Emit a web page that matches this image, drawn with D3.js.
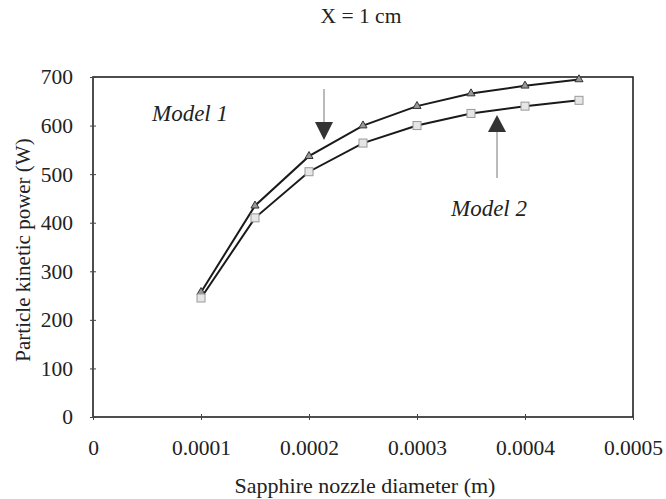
<!DOCTYPE html>
<html><head><meta charset="utf-8">
<script src="https://cdn.jsdelivr.net/npm/d3@7"></script>
<style>body{margin:0;background:#fff}svg{display:block}text{font-family:"Liberation Serif","Times New Roman",serif;fill:#222}</style>
</head><body><svg id="c" width="666" height="499"></svg>
<script>
const diameters = [0.0001, 0.00015, 0.0002, 0.00025, 0.0003, 0.00035, 0.0004, 0.00045];
const model1 = [257, 435, 537, 600, 640, 666, 682, 695];
const model2 = [245, 410, 505, 564, 600, 625, 640, 652];
const xTicks = [0, 0.0001, 0.0002, 0.0003, 0.0004, 0.0005];
const yTicks = [0, 100, 200, 300, 400, 500, 600, 700];

const svg = d3.select("#c");
const L = 93, R = 633, T = 77, B = 417;
const x = d3.scaleLinear().domain([0, 0.0005]).range([L, R]);
const y = d3.scaleLinear().domain([0, 700]).range([B, T]);

svg.append("text").attr("x", 361).attr("y", 23).attr("text-anchor", "middle").attr("font-size", 21.5).text("X = 1 cm");

svg.append("rect").attr("x", L).attr("y", T).attr("width", R - L).attr("height", B - T)
  .attr("fill", "none").attr("stroke", "#222").attr("stroke-width", 1.6);

const xa = svg.append("g").attr("transform", `translate(0,${B})`)
  .call(d3.axisBottom(x).tickValues(xTicks).tickFormat(d => d === 0 ? "0" : d3.format(".4f")(d)).tickSize(4));
const ya = svg.append("g").attr("transform", `translate(${L},0)`)
  .call(d3.axisLeft(y).tickValues(yTicks).tickSize(4).tickPadding(16));
[xa, ya].forEach(g => {
  g.select(".domain").remove();
  g.selectAll("line").attr("stroke", "#444");
  g.selectAll("text").attr("font-size", 21.5).attr("font-family", "Liberation Serif, serif").attr("fill", "#222");
});
xa.selectAll(".tick text").attr("y", 38).attr("dy", 0);
xa.selectAll(".tick line").attr("y1", -3).attr("y2", 3);
ya.selectAll(".tick line").attr("x1", -3).attr("x2", 3);

svg.append("text").attr("x", 365).attr("y", 493).attr("text-anchor", "middle").attr("font-size", 22).text("Sapphire nozzle diameter (m)");
svg.append("text").attr("transform", "translate(30,250) rotate(-90)").attr("text-anchor", "middle").attr("font-size", 21).text("Particle kinetic power (W)");

const line = d3.line().x(d => x(d[0])).y(d => y(d[1]));
const s1 = diameters.map((d, i) => [d, model1[i]]);
const s2 = diameters.map((d, i) => [d, model2[i]]);
svg.append("path").datum(s1).attr("d", line).attr("fill", "none").attr("stroke", "#1a1a1a").attr("stroke-width", 2);
svg.append("path").datum(s2).attr("d", line).attr("fill", "none").attr("stroke", "#1a1a1a").attr("stroke-width", 2);

const tri = d3.symbol().type(d3.symbolTriangle).size(28);
svg.append("g").selectAll("path").data(s1).join("path")
  .attr("d", tri).attr("transform", d => `translate(${x(d[0])},${y(d[1])})`)
  .attr("fill", "#999").attr("stroke", "#333").attr("stroke-width", 1);
svg.append("g").selectAll("rect").data(s2).join("rect")
  .attr("x", d => x(d[0]) - 4).attr("y", d => y(d[1]) - 4).attr("width", 8).attr("height", 8)
  .attr("fill", "#e6e6e6").attr("stroke", "#999").attr("stroke-width", 1);

// annotations
svg.append("text").attr("x", 152).attr("y", 121).attr("font-size", 23).attr("font-style", "italic").text("Model 1");
svg.append("line").attr("x1", 324).attr("x2", 324).attr("y1", 89).attr("y2", 124).attr("stroke", "#777").attr("stroke-width", 1);
svg.append("path").attr("d", "M315,122 L333,122 L324,140 Z").attr("fill", "#333");
svg.append("text").attr("x", 451).attr("y", 216).attr("font-size", 23).attr("font-style", "italic").text("Model 2");
svg.append("line").attr("x1", 497).attr("x2", 497).attr("y1", 130).attr("y2", 178).attr("stroke", "#777").attr("stroke-width", 1);
svg.append("path").attr("d", "M488,132 L506,132 L497,115 Z").attr("fill", "#333");
</script></body></html>
